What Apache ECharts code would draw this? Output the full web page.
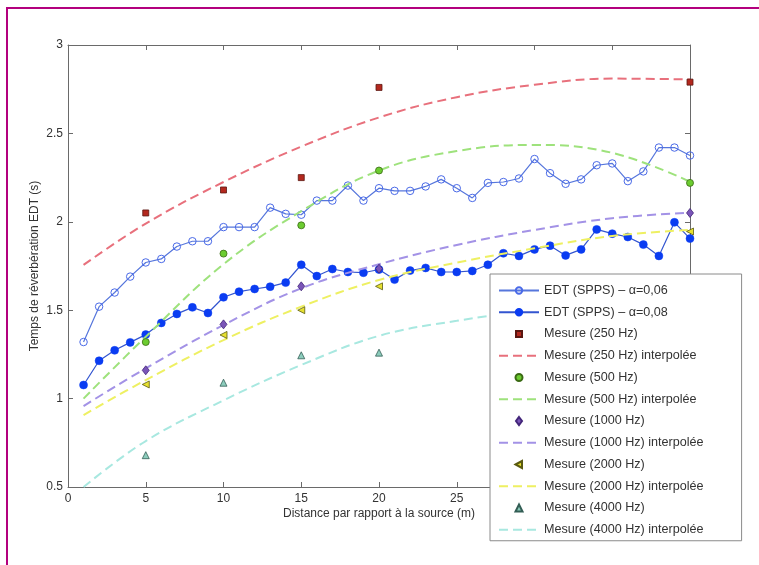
<!DOCTYPE html>
<html><head><meta charset="utf-8">
<script src="https://cdn.jsdelivr.net/npm/echarts@6/dist/echarts.min.js"></script>
<style>html,body{margin:0;padding:0;background:#fff}#c{width:759px;height:565px}</style>
</head><body><div id="c"></div>
<script>
// ---- data ----
const distEdt = [1,2,3,4,5,6,7,8,9,10,11,12,13,14,15,16,17,18,19,20,21,22,23,24,25,26,27,28,29,30,31,32,33,34,35,36,37,38,39,40];
const edt006 = [1.32,1.52,1.60,1.69,1.77,1.79,1.86,1.89,1.89,1.97,1.97,1.97,2.08,2.045,2.04,2.12,2.12,2.205,2.12,2.19,
                2.175,2.175,2.20,2.24,2.19,2.135,2.22,2.225,2.245,2.355,2.275,2.215,2.24,2.32,2.33,2.23,2.285,2.42,2.42,2.375];
const edt008 = [1.077,1.214,1.273,1.318,1.362,1.428,1.479,1.516,1.484,1.573,1.605,1.62,1.633,1.656,1.757,1.693,1.733,1.716,1.712,1.73,
                1.673,1.724,1.739,1.716,1.716,1.722,1.757,1.822,1.807,1.844,1.865,1.81,1.844,1.957,1.933,1.914,1.871,1.807,1.997,1.905];
const distMes = [5,10,15,20,40];
const mes250  = [2.05,2.18,2.25,2.76,2.79];
const mes500  = [1.32,1.82,1.98,2.29,2.22];
const mes1000 = [1.16,1.42,1.635,1.735,2.05];
const mes2000 = [1.08,1.36,1.50,1.635,1.945];
const mes4000 = [0.68,1.09,1.245,1.26,1.50];
const distInterp = [1,5,10,15,20,25,30,35,40];
const interp250  = [1.756,1.99,2.225,2.425,2.59,2.705,2.775,2.81,2.805];
const interp500  = [1.00,1.35,1.76,2.06,2.29,2.40,2.435,2.39,2.227];
const interp1000 = [0.958,1.171,1.416,1.624,1.76,1.869,1.954,2.02,2.052];
const interp2000 = [0.907,1.105,1.331,1.52,1.671,1.769,1.85,1.92,1.954];
const interp4000 = [0.50,0.76,0.99,1.19,1.355,1.44,1.50,1.54,1.55];
const seriesNames = ['EDT (SPPS) \u2013 \u03b1=0,06','EDT (SPPS) \u2013 \u03b1=0,08',
  'Mesure (250 Hz)','Mesure (250 Hz) interpolée','Mesure (500 Hz)','Mesure (500 Hz) interpolée',
  'Mesure (1000 Hz)','Mesure (1000 Hz) interpolée','Mesure (2000 Hz)','Mesure (2000 Hz) interpolée',
  'Mesure (4000 Hz)','Mesure (4000 Hz) interpolée'];
const xTitle = 'Distance par rapport à la source (m)';
const yTitle = 'Temps de réverbération EDT (s)';

// ---- chart ----
const zip = (xs, ys) => xs.map((x, i) => [x, ys[i]]);
const FONT = "'Liberation Sans', Arial, Helvetica, sans-serif";
const AX = '#6a6a6a';
const BOX = 'M0,0M40,8';
const ICONS = {
  rect: 'path://' + BOX + 'M17,1L23,1L23,7L17,7Z',
  circle: 'path://' + BOX + 'M16.5,4A3.5,3.5,0,1,0,23.5,4A3.5,3.5,0,1,0,16.5,4Z',
  diamond: 'path://' + BOX + 'M20,0L23,4L20,8L17,4Z',
  left: 'path://' + BOX + 'M16.5,4L23,0.5L23,7.5Z',
  up: 'path://' + BOX + 'M20,0.5L23.5,7.5L16.5,7.5Z'
};

function scatter(name, ys, symbol, size, fill, border, rotate) {
  return { name, type: 'scatter', data: zip(distMes, ys), symbol, symbolSize: size,
    symbolRotate: rotate || 0, z: 5,
    itemStyle: { color: fill, borderColor: border, borderWidth: 0.8, opacity: 1 } };
}
function dashed(name, ys, color) {
  return { name, type: 'line', data: zip(distInterp, ys), smooth: 0.4, symbol: 'none', showSymbol: false, z: 3,
    itemStyle: { color }, lineStyle: { color, width: 2, type: [9, 5] } };
}
const legendData = [
  { name: seriesNames[0] }, { name: seriesNames[1] },
  { name: seriesNames[2], icon: ICONS.rect }, { name: seriesNames[3], itemStyle: { opacity: 0 } },
  { name: seriesNames[4], icon: ICONS.circle }, { name: seriesNames[5], itemStyle: { opacity: 0 } },
  { name: seriesNames[6], icon: ICONS.diamond }, { name: seriesNames[7], itemStyle: { opacity: 0 } },
  { name: seriesNames[8], icon: ICONS.left }, { name: seriesNames[9], itemStyle: { opacity: 0 } },
  { name: seriesNames[10], icon: ICONS.up }, { name: seriesNames[11], itemStyle: { opacity: 0 } }
];
const axisCommon = (pos) => ({
  axisLine: { show: true, onZero: false, lineStyle: { color: AX, width: 1 } },
  axisTick: { show: true, inside: true, length: 5, lineStyle: { color: AX } },
  splitLine: { show: false }, position: pos
});

const chart = echarts.init(document.getElementById('c'), null, { renderer: 'canvas' });
chart.setOption({
  animation: false,
  backgroundColor: '#fff',
  textStyle: { fontFamily: FONT },
  graphic: [
    { type: 'rect', shape: { x: 6, y: 7, width: 760, height: 2 }, style: { fill: '#b3007e' }, silent: true },
    { type: 'rect', shape: { x: 6, y: 7, width: 2, height: 560 }, style: { fill: '#b3007e' }, silent: true }
  ],
  grid: { left: 68, top: 45, width: 622, height: 442, show: false },
  xAxis: [
    Object.assign(axisCommon('bottom'), { type: 'value', min: 0, max: 40, interval: 5,
      name: xTitle, nameLocation: 'middle', nameGap: 21, nameMoveOverlap: false,
      nameTextStyle: { fontSize: 12, color: '#333', fontFamily: FONT },
      axisLabel: { fontSize: 12, color: '#333', margin: 6, fontFamily: FONT } }),
    Object.assign(axisCommon('top'), { type: 'value', min: 0, max: 40, interval: 5,
      axisLabel: { show: false } })
  ],
  yAxis: [
    Object.assign(axisCommon('left'), { type: 'value', min: 0.5, max: 3, interval: 0.5,
      name: yTitle, nameLocation: 'middle', nameGap: 27, nameRotate: 90, nameMoveOverlap: false,
      nameTextStyle: { fontSize: 12, color: '#333', fontFamily: FONT },
      axisLabel: { fontSize: 12, color: '#333', margin: 5, fontFamily: FONT } }),
    Object.assign(axisCommon('right'), { type: 'value', min: 0.5, max: 3, interval: 0.5,
      axisLabel: { show: false } })
  ],
  legend: {
    orient: 'vertical', left: 490, top: 274,
    padding: [10, 38, 4.5, 8], itemWidth: 40, itemHeight: 8, itemGap: 8.75,
    backgroundColor: '#fff', borderColor: '#8a8a8a', borderWidth: 1,
    textStyle: { fontSize: 12.6, color: '#333', fontFamily: FONT },
    data: legendData, selectedMode: false, z: 10
  },
  series: [
    { name: seriesNames[0], type: 'line', data: zip(distEdt, edt006), symbol: 'circle', symbolSize: 7.5,
      z: 2, lineStyle: { color: '#5676dc', width: 1.2 },
      itemStyle: { color: 'rgba(255,255,255,0)', borderColor: '#4a6ae8', borderWidth: 1 } },
    { name: seriesNames[1], type: 'line', data: zip(distEdt, edt008), symbol: 'circle', symbolSize: 8,
      z: 2, lineStyle: { color: '#3355d0', width: 1.2 },
      itemStyle: { color: '#0a3cf2', borderColor: '#0a3cf2', borderWidth: 0.5 } },
    scatter(seriesNames[2], mes250, 'rect', 6, '#b3281e', '#5a1610'),
    dashed(seriesNames[3], interp250, '#e8707c'),
    scatter(seriesNames[4], mes500, 'circle', 7, '#6ccc30', '#3a6a14'),
    dashed(seriesNames[5], interp500, '#9ee27c'),
    scatter(seriesNames[6], mes1000, 'diamond', [7, 9], '#7a55b8', '#43267a'),
    dashed(seriesNames[7], interp1000, '#a392e6'),
    scatter(seriesNames[8], mes2000, 'triangle', 7, '#e6e030', '#5a5a10', 90),
    dashed(seriesNames[9], interp2000, '#eef062'),
    scatter(seriesNames[10], mes4000, 'triangle', 7, '#8cccbc', '#335e55'),
    dashed(seriesNames[11], interp4000, '#a8e8e0')
  ]
});
</script></body></html>
